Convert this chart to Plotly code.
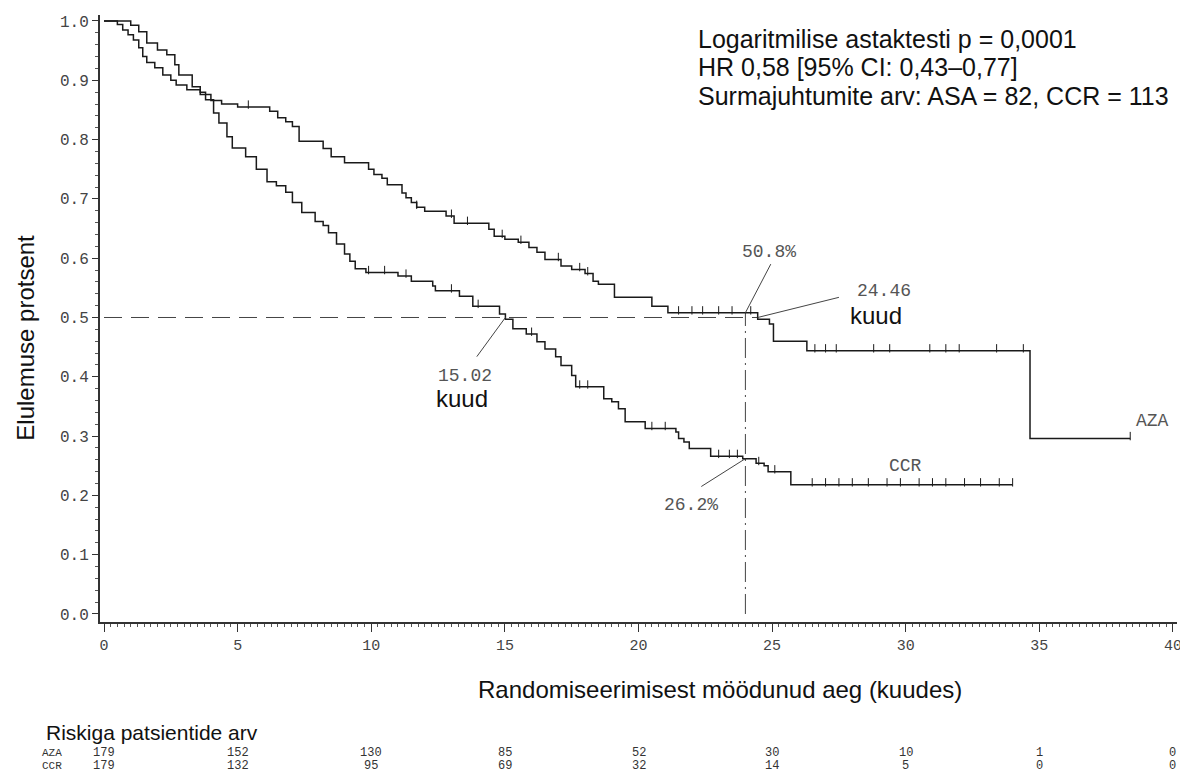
import plotly.graph_objects as go

# ---------------- data ----------------
aza_times = [0, 0.5, 0.7, 0.9, 1.1, 1.3, 1.45, 1.6, 1.9, 2.2, 2.5, 2.7, 3.1, 3.6, 4.0, 4.4, 5.0,
             6.2, 6.5, 6.8, 7.05, 7.3, 8.2, 8.5, 9.0, 9.9, 10.1, 10.4, 10.6, 11.15, 11.3, 11.5,
             11.7, 12.0, 12.8, 13.1, 14.4, 14.6, 15.0, 15.5, 15.9, 16.2, 16.5, 17.1, 17.5, 18.0,
             18.3, 18.5, 19.1, 20.5, 21.1, 24.46, 24.9, 25.05, 26.3, 34.65]
aza_surv = [1.0, 0.994, 0.985, 0.977, 0.968, 0.955, 0.94, 0.93, 0.921, 0.909, 0.9, 0.892, 0.884,
            0.876, 0.866, 0.86, 0.855, 0.848, 0.837, 0.83, 0.822, 0.797, 0.785, 0.771, 0.761,
            0.75, 0.741, 0.735, 0.724, 0.71, 0.702, 0.694, 0.686, 0.679, 0.671, 0.659, 0.649,
            0.637, 0.632, 0.627, 0.618, 0.61, 0.598, 0.587, 0.581, 0.574, 0.561, 0.556, 0.534,
            0.519, 0.508, 0.497, 0.489, 0.46, 0.444, 0.296]
aza_end = 38.4
aza_censor = [5.4, 11.7, 13.0, 13.6, 14.9, 15.6, 17.0, 17.8, 18.1, 21.5, 22.0, 22.4, 23.0,
              23.5, 24.2, 26.6, 27.0, 27.4, 28.8, 29.4, 30.9, 31.5, 32.0, 33.4, 34.4, 38.4]

ccr_times = [0, 1.0, 1.3, 1.6, 2.0, 2.35, 2.65, 2.8, 3.3, 3.6, 3.8, 4.1, 4.3, 4.6, 4.8, 5.3, 5.7,
             6.1, 6.45, 6.8, 7.05, 7.4, 7.9, 8.2, 8.4, 8.7, 9.0, 9.2, 9.4, 9.8, 11.0, 11.5, 12.3,
             12.4, 13.3, 13.8, 14.8, 15.02, 15.3, 15.8, 16.2, 16.5, 16.9, 17.1, 17.5, 17.65,
             18.7, 19.0, 19.25, 19.5, 20.25, 21.4, 21.5, 21.7, 21.9, 22.7, 23.9, 24.4, 24.7,
             24.85, 25.7]
ccr_surv = [1.0, 0.993, 0.982, 0.963, 0.951, 0.943, 0.926, 0.909, 0.889, 0.88, 0.867, 0.845,
            0.828, 0.805, 0.786, 0.771, 0.75, 0.729, 0.722, 0.711, 0.694, 0.677, 0.662, 0.655,
            0.643, 0.624, 0.607, 0.595, 0.582, 0.576, 0.57, 0.561, 0.553, 0.545, 0.536, 0.519,
            0.506, 0.497, 0.481, 0.472, 0.459, 0.447, 0.434, 0.419, 0.402, 0.383, 0.363, 0.358,
            0.346, 0.324, 0.313, 0.307, 0.296, 0.29, 0.279, 0.266, 0.262, 0.254, 0.25, 0.24,
            0.218]
ccr_end = 34.0
ccr_censor = [9.9, 10.5, 11.3, 13.0, 14.0, 16.0, 17.8, 18.1, 20.5, 21.0, 23.0, 23.4, 23.7, 24.5,
              25.1, 26.5, 27.0, 27.5, 28.0, 28.6, 29.3, 29.8, 30.5, 31.0, 31.5, 32.2, 32.8,
              33.5, 34.0]

risk_times = [0, 5, 10, 15, 20, 25, 30, 35, 40]
risk_aza = [179, 152, 130, 85, 52, 30, 10, 1, 0]
risk_ccr = [179, 132, 95, 69, 32, 14, 5, 0, 0]

x_ticks = [0, 5, 10, 15, 20, 25, 30, 35, 40]
y_ticks = [0.0, 0.1, 0.2, 0.3, 0.4, 0.5, 0.6, 0.7, 0.8, 0.9, 1.0]

median_aza = 24.46
median_ccr = 15.02
landmark = 24.0
surv24_aza = 0.508
surv24_ccr = 0.262

stats_lines = ["Logaritmilise astaktesti p = 0,0001",
               "HR 0,58 [95% CI: 0,43\u20130,77]",
               "Surmajuhtumite arv: ASA = 82, CCR = 113"]


def surv_at(t, times, vals):
    v = vals[0]
    for tt, vv in zip(times, vals):
        if tt <= t:
            v = vv
    return v


SANS = "Liberation Sans, Arial, sans-serif"
MONO = "Liberation Mono, DejaVu Sans Mono, monospace"
LINE = "#1a1a1a"
GREY = "#555555"


# page -> paper helpers (page has an 8px body margin; plot area spans x 100..1180, y 14..622)
def px(page_x):
    return (page_x - 100) / 1080


def py(page_y):
    return (622 - page_y) / 608


fig = go.Figure()

# reference lines
fig.add_trace(go.Scatter(x=[0, median_aza], y=[0.5, 0.5], mode="lines",
                         line=dict(color="#444444", width=1, dash="18px,9px"),
                         hoverinfo="skip", showlegend=False))
fig.add_trace(go.Scatter(x=[landmark, landmark], y=[0, surv24_aza], mode="lines",
                         line=dict(color="#444444", width=1, dash="20px,5px,2px,5px"),
                         hoverinfo="skip", showlegend=False))

# survival curves
for times, surv, end, cens in [(aza_times, aza_surv, aza_end, aza_censor),
                               (ccr_times, ccr_surv, ccr_end, ccr_censor)]:
    fig.add_trace(go.Scatter(x=times + [end], y=surv + [surv[-1]], mode="lines",
                             line=dict(color=LINE, width=1.5, shape="hv"),
                             showlegend=False))
    fig.add_trace(go.Scatter(x=cens, y=[surv_at(c, times, surv) + 0.004 for c in cens],
                             mode="markers",
                             marker=dict(symbol="line-ns", size=6,
                                         line=dict(color=LINE, width=1)),
                             showlegend=False, hoverinfo="skip"))

# leader lines (from the curve points to the labels)
leaders = [
    ([landmark, 24.95], [surv24_aza, 0.59]),
    ([median_aza, 27.5], [0.5, 0.534]),
    ([median_ccr, 13.95], [0.5, 0.434]),
    ([landmark, 22.35], [surv24_ccr, 0.215]),
]
for lx, ly in leaders:
    fig.add_trace(go.Scatter(x=lx, y=ly, mode="lines",
                             line=dict(color="#444444", width=1),
                             hoverinfo="skip", showlegend=False))

ann = []


def txt(x, y, s, size, color=GREY, xref="x", yref="y", xanchor="center", yanchor="middle",
        family=SANS, textangle=0):
    ann.append(dict(x=x, y=y, xref=xref, yref=yref, text=s, showarrow=False,
                    xanchor=xanchor, yanchor=yanchor, textangle=textangle,
                    font=dict(family=family, size=size, color=color)))


txt(24.9, 0.61, f"{surv24_aza*100:.1f}%", 18, family=MONO)
txt(29.2, 0.545, f"{median_aza:.2f}", 18, family=MONO)
txt(28.9, 0.503, "kuud", 24, color="#111111")
txt(13.5, 0.402, f"{median_ccr:.2f}", 18, family=MONO)
txt(13.4, 0.363, "kuud", 24, color="#111111")
txt(21.95, 0.183, f"{surv24_ccr*100:.1f}%", 18, family=MONO)
txt(39.25, 0.325, "AZA", 18, family=MONO)
txt(30.0, 0.25, "CCR", 18, family=MONO)

# stats text
for i, line in enumerate(stats_lines):
    txt(px(698), py(38 + i * 28.5), line, 25, color="#111111",
        xref="paper", yref="paper", xanchor="left")

# axis titles
txt(px(25), py(337), "Elulemuse protsent", 24, color="#111111",
    xref="paper", yref="paper", textangle=-90)
txt(px(722), py(690), "Randomiseerimisest möödunud aeg (kuudes)", 24, color="#111111",
    xref="paper", yref="paper")

# risk table
txt(px(44), py(733), "Riskiga patsientide arv", 21, color="#111111",
    xref="paper", yref="paper", xanchor="left")
txt(px(40), py(753), "AZA", 11, color="#333333", family=MONO,
    xref="paper", yref="paper", xanchor="left")
txt(px(40), py(766), "CCR", 11, color="#333333", family=MONO,
    xref="paper", yref="paper", xanchor="left")
for t, a, c in zip(risk_times, risk_aza, risk_ccr):
    txt(t, py(753), str(a), 12, color="#333333", yref="paper", family=MONO)
    txt(t, py(766), str(c), 12, color="#333333", yref="paper", family=MONO)

fig.update_layout(
    width=1180, height=768,
    margin=dict(l=92, r=8, t=6, b=154),
    paper_bgcolor="white", plot_bgcolor="white",
    annotations=ann,
    showlegend=False,
    xaxis=dict(range=[-0.15, 40.15], tickvals=x_ticks, ticktext=[str(v) for v in x_ticks],
               ticks="outside", ticklen=8, tickwidth=1, tickcolor="#333333",
               showline=True, linewidth=2, linecolor="#333333",
               minor=dict(dtick=0.25, ticks="outside", ticklen=3, tickcolor="#555555"),
               showgrid=False, zeroline=False,
               tickfont=dict(family=MONO, size=15, color="#444444")),
    yaxis=dict(range=[-0.0135, 1.0101], tickvals=y_ticks,
               ticktext=[f"{v:.1f}" for v in y_ticks],
               ticks="outside", ticklen=6, tickwidth=1, tickcolor="#333333",
               showline=True, linewidth=2, linecolor="#333333",
               minor=dict(dtick=0.02, ticks="outside", ticklen=3, tickcolor="#555555"),
               showgrid=False, zeroline=False,
               tickfont=dict(family=MONO, size=16, color="#444444")),
)

fig.write_html("out.html")
